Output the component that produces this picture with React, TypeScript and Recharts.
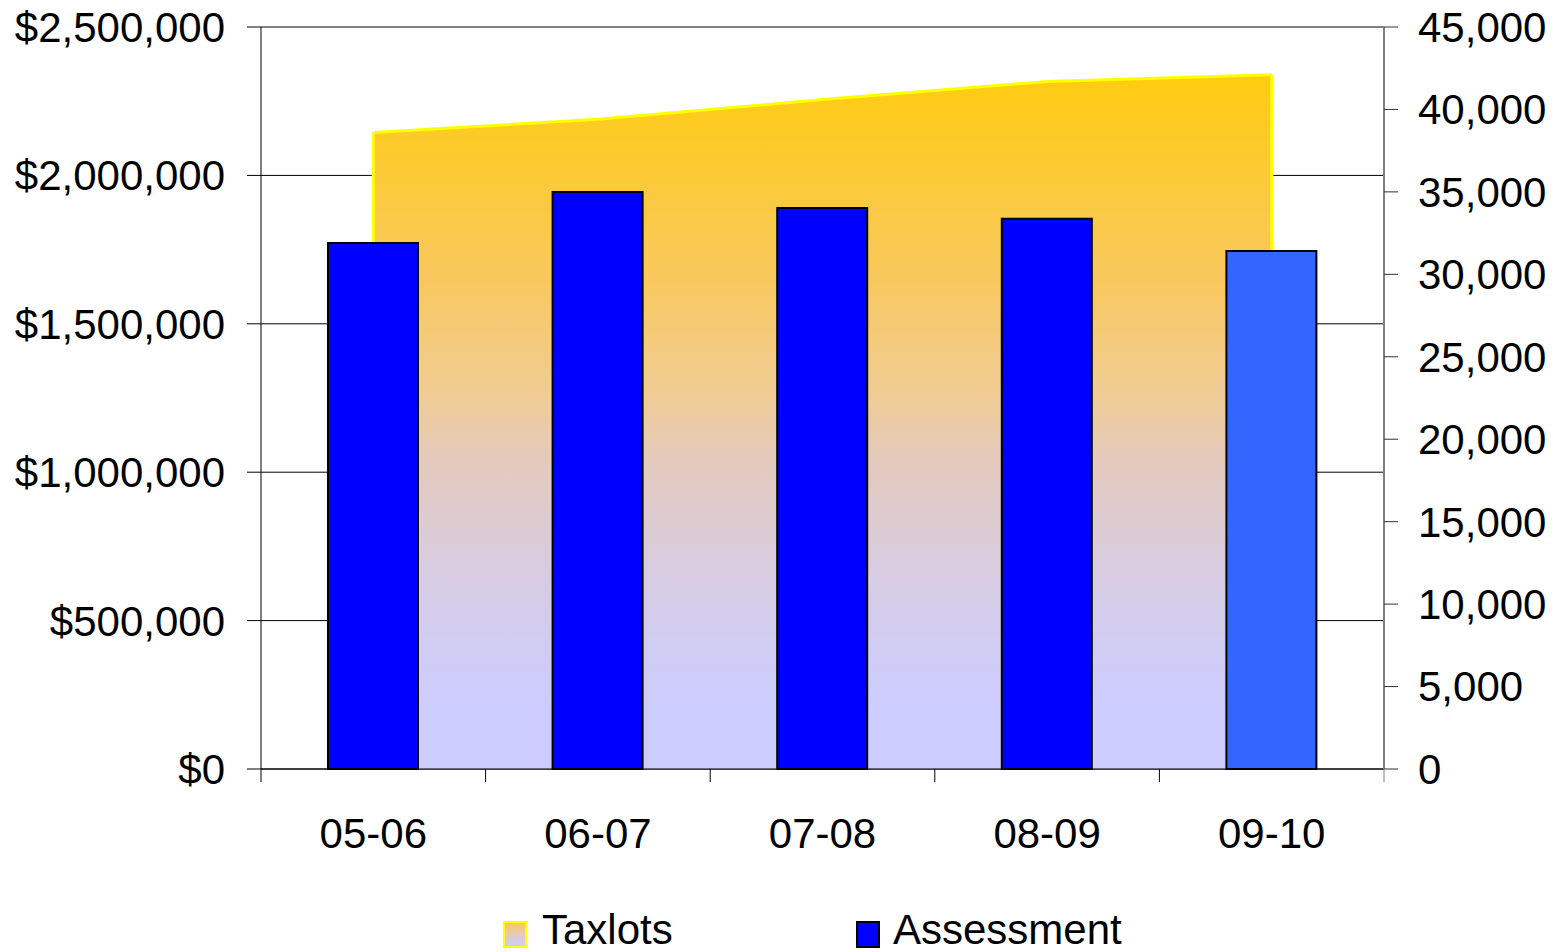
import {
  Area,
  Bar,
  CartesianGrid,
  Cell,
  ComposedChart,
  ReferenceLine,
  XAxis,
  YAxis,
} from "recharts";

const years = ["05-06", "06-07", "07-08", "08-09", "09-10"];
const assessment = [1772000, 1944000, 1890000, 1854000, 1745000];
const taxlots = [38600, 39400, 40600, 41700, 42100];
const barColors = ["#0000FF", "#0000FF", "#0000FF", "#0000FF", "#3366FF"];

const dollarTicks = [0, 500000, 1000000, 1500000, 2000000, 2500000];
const countTicks = [0, 5000, 10000, 15000, 20000, 25000, 30000, 35000, 40000, 45000];

const data = years.map((year, i) => ({
  year,
  assessment: assessment[i],
  taxlots: taxlots[i],
}));

const W = 1564;
const H = 952;
const LEFT_W = 261;
const RIGHT_W = 180;
const TOP = 27;
const X_AXIS_H = 183;
const FONT = "'Liberation Sans', Arial, sans-serif";
const STEP = (W - LEFT_W - RIGHT_W) / years.length;
const TICK = 13;
const TICK_GAP = 36;

// gold fading through peach and pink into lavender
const fadeStops: [number, string][] = [
  [0, "#FFCC10"],
  [0.3, "#F8C860"],
  [0.46, "#F0CC95"],
  [0.555, "#E4CABD"],
  [0.71, "#D8CCE0"],
  [0.84, "#CFCCF5"],
  [0.92, "#CCCCFF"],
  [1, "#CCCCFF"],
];

const fmtDollar = (v: number) => "$" + v.toLocaleString("en-US");
const fmtCount = (v: number) => v.toLocaleString("en-US");

// category label plus tick marks on the band edges instead of the centre
function YearTick(props: any) {
  const { x, y, payload, index } = props;
  const axisY = y - TICK - TICK_GAP;
  const left = x - STEP / 2;
  const right = x + STEP / 2;
  return (
    <g>
      <line x1={left} x2={left} y1={axisY} y2={axisY + TICK} stroke="#000" />
      {index === years.length - 1 && (
        <line x1={right} x2={right} y1={axisY} y2={axisY + TICK} stroke="#808080" />
      )}
      <text x={x} y={y} dy="0.71em" textAnchor="middle" fill="#000" fontSize={42} fontFamily={FONT}>
        {payload.value}
      </text>
    </g>
  );
}

function Legend() {
  const item = { display: "flex", alignItems: "center", position: "absolute" as const, top: 906 };
  return (
    <div style={{ fontFamily: FONT, fontSize: 42, color: "#000" }}>
      <div style={{ ...item, left: 503 }}>
        <span
          style={{
            width: 20,
            height: 23,
            border: "2px solid #FFFF00",
            background: "linear-gradient(#F9C95A, #E4CABD, #CCCCFF)",
            marginRight: 15,
            marginTop: 8,
          }}
        />
        <span>Taxlots</span>
      </div>
      <div style={{ ...item, left: 856 }}>
        <span
          style={{
            width: 20,
            height: 23,
            border: "2px solid #000",
            background: "#0000FF",
            marginRight: 13,
            marginTop: 8,
          }}
        />
        <span>Assessment</span>
      </div>
    </div>
  );
}

export default function App() {
  const first = years[0];
  const last = years[years.length - 1];
  return (
    <div style={{ position: "absolute", left: 0, top: 0, width: W, height: H, overflow: "hidden", background: "#fff" }}>
      <ComposedChart width={W} height={H} data={data} margin={{ top: TOP, right: 0, bottom: 0, left: 0 }}>
        <defs>
          <linearGradient id="taxFill" x1="0" y1="0" x2="0" y2="1">
            {fadeStops.map(([o, c]) => (
              <stop key={o} offset={o} stopColor={c} />
            ))}
          </linearGradient>
        </defs>
        <CartesianGrid yAxisId="left" vertical={false} stroke="#000" strokeWidth={1} />
        <XAxis
          dataKey="year"
          height={X_AXIS_H}
          axisLine={{ stroke: "#000" }}
          tickLine={false}
          tickSize={TICK}
          tickMargin={TICK_GAP}
          interval={0}
          tick={<YearTick />}
        />
        <YAxis
          yAxisId="left"
          width={LEFT_W}
          domain={[0, 2500000]}
          ticks={dollarTicks}
          tickFormatter={fmtDollar}
          axisLine={{ stroke: "#000" }}
          tickLine={{ stroke: "#000" }}
          tickSize={14}
          tickMargin={22}
          tick={{ fill: "#000", fontSize: 42, fontFamily: FONT }}
        />
        <YAxis
          yAxisId="right"
          orientation="right"
          width={RIGHT_W}
          domain={[0, 45000]}
          ticks={countTicks}
          tickFormatter={fmtCount}
          axisLine={{ stroke: "#808080", strokeWidth: 2 }}
          tickLine={{ stroke: "#333" }}
          tickSize={14}
          tickMargin={20}
          tick={{ fill: "#000", fontSize: 42, fontFamily: FONT }}
        />
        <Area
          yAxisId="right"
          type="linear"
          dataKey="taxlots"
          stroke="#FFFF00"
          strokeWidth={3}
          fill="url(#taxFill)"
          fillOpacity={1}
          isAnimationActive={false}
        />
        {/* close the area outline down to the baseline, kept under the bars */}
        <ReferenceLine
          yAxisId="right"
          zIndex={150}
          segment={[{ x: first, y: 0 }, { x: first, y: taxlots[0] }]}
          stroke="#FFFF00"
          strokeWidth={3}
        />
        <ReferenceLine
          yAxisId="right"
          zIndex={150}
          segment={[{ x: last, y: 0 }, { x: last, y: taxlots[taxlots.length - 1] }]}
          stroke="#FFFF00"
          strokeWidth={3}
        />
        <Bar
          yAxisId="left"
          dataKey="assessment"
          barSize={90}
          stroke="#000"
          strokeWidth={2}
          isAnimationActive={false}
        >
          {data.map((_, i) => (
            <Cell key={i} fill={barColors[i]} />
          ))}
        </Bar>
      </ComposedChart>
      <Legend />
    </div>
  );
}
